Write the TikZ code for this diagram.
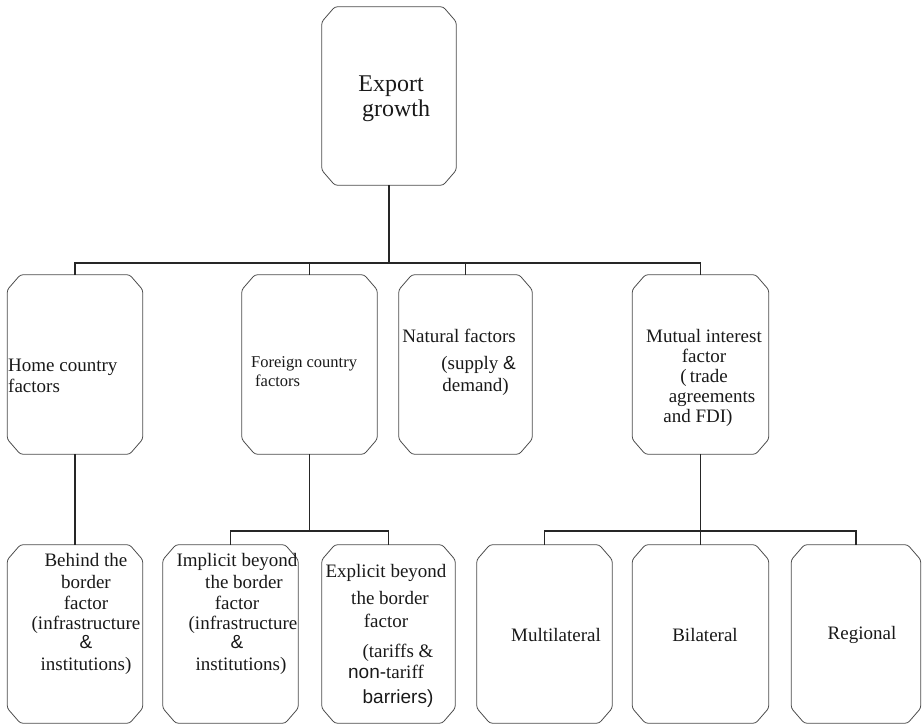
\documentclass[tikz,border=0pt]{standalone}
\usepackage{fontspec}
\setmainfont{Liberation Serif}
\newfontfamily\arialfam{Liberation Sans}

\begin{document}
\begin{tikzpicture}[x=1pt,y=-1pt]
        \tikzstyle{every node}=[inner sep=0pt, text=black!90]
        \tikzstyle{box}=[minimum width=135pt, minimum height=178pt]
        \tikzstyle{boxline}=[draw=black!70, line width=0.8pt, rounded corners=2.5pt]
        \tikzstyle{wire}=[line width=1.7pt, black!85]
        \tikzstyle{txt}=[font=\fontsize{19}{21.5}\selectfont, align=center]
        \useasboundingbox (0,0) rectangle (923,725);

        % boxes
        \node[box, minimum width=134pt] (top) at (389,96) {};
        \node[box, minimum height=179pt] (home) at (75,364.5) {};
        \node[box, minimum height=179pt] (foreign) at (309.5,364.5) {};
        \node[box, minimum height=179pt, minimum width=133pt] (natural) at (465.5,364.5) {};
        \node[box, minimum height=179pt, minimum width=136pt] (mutual) at (700.5,364.5) {};
        \node[box] (behind) at (75,634) {};
        \node[box] (implicit) at (230.5,634) {};
        \node[box, minimum width=133pt] (explicit) at (388.5,634) {};
        \node[box] (multi) at (544.5,634) {};
        \node[box, minimum width=136pt] (bi) at (700.5,634) {};
        \node[box, minimum width=129pt] (regional) at (856,634) {};

        \foreach \b in {top,home,foreign,natural,mutual,behind,implicit,explicit,multi,bi,regional}
            \draw[boxline] ([xshift=13pt]\b.north west) -- ([xshift=-13pt]\b.north east)
                -- ([yshift=-15pt]\b.north east) -- ([yshift=15pt]\b.south east)
                -- ([xshift=-13pt]\b.south east) -- ([xshift=13pt]\b.south west)
                -- ([yshift=15pt]\b.south west) -- ([yshift=-15pt]\b.north west) -- cycle;

        % texts
        \node[txt, font=\fontsize{24}{25}\selectfont] (t-top) at (391,99) {Export\\\hspace*{10pt}growth};
        \node[txt, align=left, anchor=west] (t-home) at (8,376) {Home country\\factors};
        \node[txt, align=left, anchor=west, font=\fontsize{16.5}{19}\selectfont] (t-foreign) at (251,372) {Foreign country\\\hspace*{4pt}factors};
        \node[txt, align=right, anchor=east] (t-natural) at (516,362) {Natural factors\\[6pt](supply {\arialfam\&}\\demand)\hspace*{7pt}};
        \node[txt, font=\fontsize{19}{20}\selectfont] (t-mutual) at (704,378) {Mutual interest\\factor\\(\,trade\\\hspace*{16pt}agreements\\and FDI)\hspace*{12pt}};
        \node[txt] (t-behind) at (86,614) {Behind the\\border\hspace*{28pt}\\factor\hspace*{12pt}\\[-2pt](infrastructure\\[-2pt]{\arialfam\&}\hspace*{22pt}\\institutions)};
        \node[txt] (t-implicit) at (237,614) {Implicit beyond\\\hspace*{14pt}the border\\factor\\[-2pt]\hspace*{12pt}(infrastructure\\[-2pt]{\arialfam\&}\\\hspace*{8pt}institutions)};
        \node[txt] (t-explicit) at (386,636) {Explicit beyond\\[5.5pt]\hspace*{8pt}the border\\[1.5pt]factor\\[8.5pt]\hspace*{24pt}(tariffs \&\\{\arialfam non-}tariff\hspace*{10pt}\\[3.5pt]\hspace*{24pt}{\arialfam barriers)}};
        \node[txt] (t-multi) at (556,635) {Multilateral};
        \node[txt] (t-bi) at (705,635) {Bilateral};
        \node[txt] (t-regional) at (862,635) {Regional};

        % connectors
        \coordinate (bus1) at (389,263);
        \draw[wire] (top.south) -- (bus1);
        \foreach \b in {home,foreign,natural,mutual}
            \draw[wire] (\b.north) |- (bus1);
        \draw[wire] (home.south) -- (behind.north);
        \coordinate (bus2) at (309.5,531);
        \draw[wire] (foreign.south) -- (bus2);
        \foreach \b in {implicit,explicit}
            \draw[wire] (\b.north) |- (bus2);
        \coordinate (bus3) at (700.5,531);
        \draw[wire] (mutual.south) -- (bus3);
        \foreach \b in {multi,bi,regional}
            \draw[wire] (\b.north) |- (bus3);
\end{tikzpicture}
\end{document}
